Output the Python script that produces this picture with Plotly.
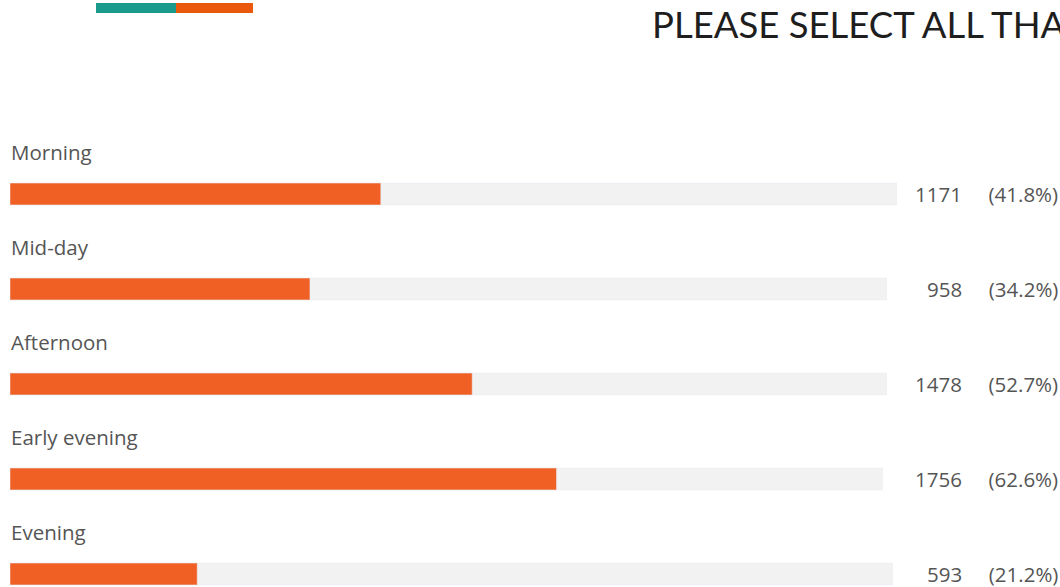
import plotly.graph_objects as go

categories = ["Morning", "Mid-day", "Afternoon", "Early evening", "Evening"]
counts = [1171, 958, 1478, 1756, 593]
percents = [41.8, 34.2, 52.7, 62.6, 21.2]
title_text = "PLEASE SELECT ALL THAT APPLY"

W, H = 1060, 587
track_ends = [897, 887, 887, 883, 893]  # px, per row (layout)
left_px = 10
ORANGE = "#f05f24"
TRACK = "#f2f2f2"
TXT = "#555555"

fig = go.Figure()
for i, cat in enumerate(categories):
    ax = "x" if i == 0 else f"x{i+1}"
    fig.add_trace(go.Bar(y=[cat], x=[100], orientation="h", marker_color=TRACK,
                         width=0.23, xaxis=ax, yaxis="y", hoverinfo="skip", showlegend=False))
    fig.add_trace(go.Bar(y=[cat], x=[percents[i]], orientation="h", marker_color=ORANGE,
                         width=0.23, xaxis=ax, yaxis="y", showlegend=False))
    key = "xaxis" if i == 0 else f"xaxis{i+1}"
    fig.layout[key] = dict(domain=[left_px / W, track_ends[i] / W], range=[0, 100],
                           visible=False, fixedrange=True, anchor="y")
    fig.add_annotation(x=(left_px - 1) / W, xref="paper", y=cat, yref="y", yshift=42,
                       text=cat, showarrow=False, xanchor="left", yanchor="middle",
                       font=dict(family="Open Sans", size=20.5, color=TXT))
    fig.add_annotation(x=1060 / W, xref="paper", y=cat, yref="y",
                       text=f"{counts[i]}&nbsp;&nbsp;&nbsp;&nbsp;&nbsp;({percents[i]}%)", showarrow=False,
                       xanchor="right", yanchor="middle",
                       font=dict(family="Open Sans", size=20.5, color=TXT))

fig.add_annotation(x=650 / W, xref="paper", y=1 - 24 / H, yref="paper", text=title_text,
                   showarrow=False, xanchor="left", yanchor="middle",
                   font=dict(family="Lato", size=36.5, color="#1e1e1e"))

fig.add_shape(type="rect", xref="paper", yref="paper", x0=96 / W, x1=176 / W,
              y0=1 - 13 / H, y1=1 - 3 / H, fillcolor="#1a9a8a", line_width=0)
fig.add_shape(type="rect", xref="paper", yref="paper", x0=176 / W, x1=253 / W,
              y0=1 - 13 / H, y1=1 - 3 / H, fillcolor="#eb5a0c", line_width=0)

n = len(categories)
fig.update_layout(
    width=W, height=H, margin=dict(l=0, r=0, t=0, b=0),
    paper_bgcolor="white", plot_bgcolor="rgba(0,0,0,0)", barmode="overlay",
    yaxis=dict(type="category", categoryorder="array", categoryarray=categories,
               range=[(n - 1) + 13 / 95, -194 / 95], visible=False, domain=[0, 1],
               fixedrange=True),
)
fig.write_html("out.html", config={"displayModeBar": False},
               post_script="document.body.style.margin='0';document.body.style.overflow='hidden';")
